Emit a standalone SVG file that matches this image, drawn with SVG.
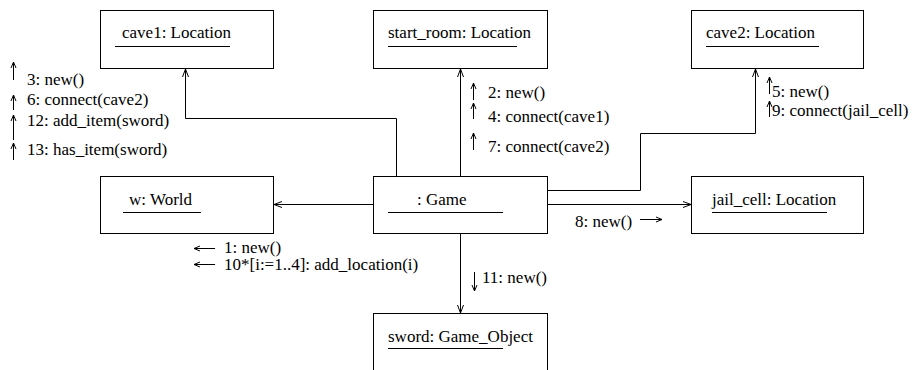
<svg xmlns="http://www.w3.org/2000/svg" width="921" height="370" viewBox="0 0 921 370">
<style>
.box{fill:#fff;stroke:#000;stroke-width:1}
.ul{stroke:#000;stroke-width:1}
text{font-family:"Liberation Serif","Times New Roman",serif;font-size:17px;fill:#000}
.con{fill:none;stroke:#000;stroke-width:1}
.msg{fill:none;stroke:#000;stroke-width:1}
</style>
<defs>
<marker id="ah" viewBox="-10 -5 12 10" refX="0" refY="0" markerWidth="12" markerHeight="10" markerUnits="userSpaceOnUse" orient="auto"><path d="M-8,-3 L0,0 L-8,3" fill="none" stroke="#000" stroke-width="1"/></marker>
<marker id="sh" viewBox="-8 -4 10 8" refX="0" refY="0" markerWidth="10" markerHeight="8" markerUnits="userSpaceOnUse" orient="auto"><path d="M-6,-2.5 L0,0 L-6,2.5" fill="none" stroke="#000" stroke-width="1"/></marker>
</defs>
<rect width="921" height="370" fill="#fff"/>
<g id="connectors">
<path class="con" d="M373,204.5 H274" marker-end="url(#ah)"/>
<path class="con" d="M547,204.5 H691" marker-end="url(#ah)"/>
<path class="con" d="M460.5,176 V69" marker-end="url(#ah)"/>
<path class="con" d="M396.5,176 V118.5 H185.5 V69" marker-end="url(#ah)"/>
<path class="con" d="M547,190.5 H640.5 V133.5 H755.5 V69" marker-end="url(#ah)"/>
<path class="con" d="M460.5,233 V313" marker-end="url(#ah)"/>
</g>
<g id="messages">
<path class="msg" d="M13.5,80 V62" marker-end="url(#sh)"/>
<path class="msg" d="M13.5,110 V95" marker-end="url(#sh)"/>
<path class="msg" d="M13.5,140 V115" marker-end="url(#sh)"/>
<path class="msg" d="M13.5,160 V143" marker-end="url(#sh)"/>
<text x="27" y="85">3: new()</text>
<text x="27" y="105">6: connect(cave2)</text>
<text x="27" y="126">12: add_item(sword)</text>
<text x="27" y="155">13: has_item(sword)</text>
<path class="msg" d="M473.5,100 V83" marker-end="url(#sh)"/>
<path class="msg" d="M473.5,119 V103" marker-end="url(#sh)"/>
<path class="msg" d="M473.5,150 V133" marker-end="url(#sh)"/>
<text x="488" y="98">2: new()</text>
<text x="488" y="122">4: connect(cave1)</text>
<text x="488" y="152">7: connect(cave2)</text>
<path class="msg" d="M769.5,94 V77" marker-end="url(#sh)"/>
<path class="msg" d="M769.5,117 V101" marker-end="url(#sh)"/>
<text x="772" y="97">5: new()</text>
<text x="772" y="116">9: connect(jail_cell)</text>
<path class="msg" d="M215,248.5 H194" marker-end="url(#sh)"/>
<path class="msg" d="M215,264.5 H194" marker-end="url(#sh)"/>
<text x="224" y="253">1: new()</text>
<text x="224" y="270">10*[i:=1..4]: add_location(i)</text>
<path class="msg" d="M474.5,272 V291" marker-end="url(#sh)"/>
<text x="482" y="283">11: new()</text>
<path class="msg" d="M640,219.5 H662" marker-end="url(#sh)"/>
<text x="575" y="227">8: new()</text>
</g>
<g id="cave1">
<rect class="box" x="100.5" y="10.5" width="173" height="58"/>
<text x="122" y="38">cave1: Location</text>
<line class="ul" x1="115" y1="46.5" x2="230" y2="46.5"/>
</g>
<g id="start_room">
<rect class="box" x="373.5" y="10.5" width="174" height="58"/>
<text x="388" y="38">start_room: Location</text>
<line class="ul" x1="388" y1="46.5" x2="517" y2="46.5"/>
</g>
<g id="cave2">
<rect class="box" x="691.5" y="10.5" width="172" height="58"/>
<text x="706" y="38">cave2: Location</text>
<line class="ul" x1="706" y1="46.5" x2="819" y2="46.5"/>
</g>
<g id="world">
<rect class="box" x="100.5" y="176.5" width="173" height="57"/>
<text x="129" y="205">w: World</text>
<line class="ul" x1="123" y1="212.5" x2="201" y2="212.5"/>
</g>
<g id="game">
<rect class="box" x="373.5" y="176.5" width="174" height="57"/>
<text x="417" y="205">: Game</text>
<line class="ul" x1="388" y1="212.5" x2="503" y2="212.5"/>
</g>
<g id="jail_cell">
<rect class="box" x="691.5" y="176.5" width="172" height="57"/>
<text x="712" y="205">jail_cell: Location</text>
<line class="ul" x1="712" y1="212.5" x2="827" y2="212.5"/>
</g>
<g id="sword">
<rect class="box" x="373.5" y="313.5" width="174" height="70"/>
<text x="388" y="342">sword: Game_Object</text>
<line class="ul" x1="388" y1="348.5" x2="503" y2="348.5"/>
</g>
</svg>
